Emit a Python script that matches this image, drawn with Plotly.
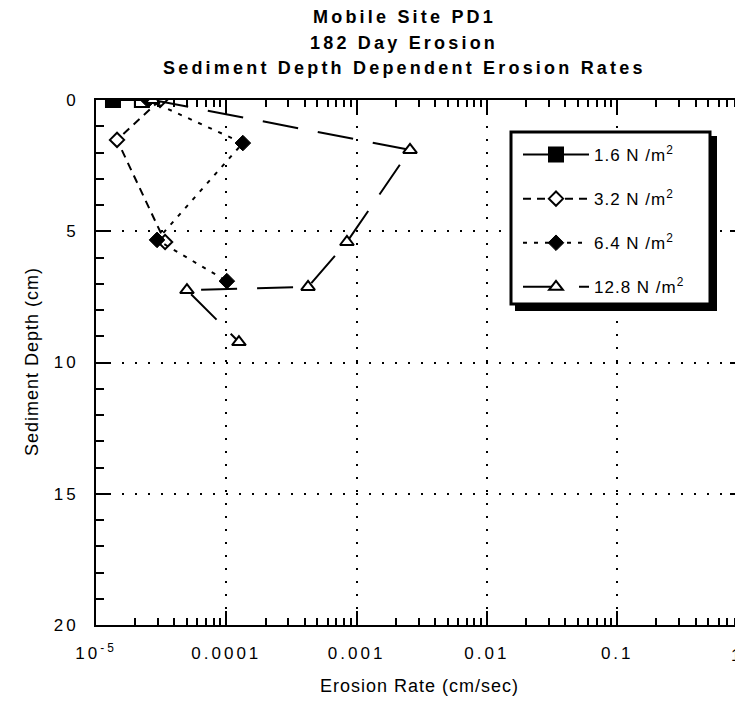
import plotly.graph_objects as go

# ---- data ----
series_names = ["1.6 N /m<sup>2</sup>", "3.2 N /m<sup>2</sup>", "6.4 N /m<sup>2</sup>", "12.8 N /m<sup>2</sup>"]

rate_16 = [1.35e-5, 2.25e-5]
depth_16 = [0.0, 0.0]

rate_32 = [3.10e-5, 1.45e-5, 3.39e-5]
depth_32 = [0.0, 1.52, 5.41]

rate_64 = [2.51e-5, 1.34e-4, 2.94e-5, 1.01e-4]
depth_64 = [0.0, 1.64, 5.33, 6.90]

rate_128 = [2.73e-5, 2.57e-3, 8.43e-4, 4.24e-4, 4.99e-5, 1.25e-4]
depth_128 = [0.0, 1.90, 5.41, 7.12, 7.24, 9.22]

x_tickvals = [1e-5, 1e-4, 1e-3, 1e-2, 1e-1]
x_ticktext = ["10<sup>-5</sup>", "0.0001", "0.001", "0.01", "0.1"]
x_edge_label = "1"
y_tickvals = [0, 5, 10, 15, 20]
y_ticktext = ["0", "5", "10", "15", "20"]

title_lines = ["Mobile Site PD1", "182 Day Erosion", "Sediment Depth Dependent Erosion Rates"]
x_title = "Erosion Rate (cm/sec)"
y_title = "Sediment Depth (cm)"

FONT = "Liberation Sans, Arial, sans-serif"


def spaced(txt, px):
    return '<span style="letter-spacing:%spx">%s</span>' % (px, txt)


fig = go.Figure()

fig.add_trace(go.Scatter(
    x=rate_16, y=depth_16, name=spaced(series_names[0], 1), legendgroup="a",
    mode="lines+markers",
    line=dict(color="black", width=2, dash="solid"),
    marker=dict(symbol=["square", "square-open"], size=14, color="black",
                line=dict(color="black", width=2)),
))
fig.add_trace(go.Scatter(
    x=rate_32, y=depth_32, name=spaced(series_names[1], 1), legendgroup="b",
    mode="lines+markers",
    line=dict(color="black", width=2, dash="8px,6px"),
    marker=dict(symbol="diamond", size=11, color="white",
                line=dict(color="black", width=2)),
))
fig.add_trace(go.Scatter(
    x=rate_64, y=depth_64, name=spaced(series_names[2], 1), legendgroup="c",
    mode="lines+markers",
    line=dict(color="black", width=2, dash="4px,7px"),
    marker=dict(symbol="diamond", size=12, color="black",
                line=dict(color="black", width=1)),
))
fig.add_trace(go.Scatter(
    x=rate_128, y=depth_128, name=spaced(series_names[3], 1), legendgroup="d",
    mode="lines+markers",
    line=dict(color="black", width=2, dash="36px,20px"),
    marker=dict(symbol="triangle-up", size=12, color="white",
                line=dict(color="black", width=2)),
))

# page is offset by the 8px body margin
OFF = 8
W, H = 743 - OFF, 705 - OFF
L, T, B = 96 - OFF, 100 - OFF, 80
pw = W - L
ph = H - T - B
decade = 130.3
xmax_log = -5 + pw / decade


def px_x(page_x):
    return (page_x - OFF - L) / pw


def px_y(page_y):
    return (H - B - (page_y - OFF)) / ph


# legend frame with drop shadow
fig.add_shape(type="rect", xref="paper", yref="paper",
              x0=px_x(515), x1=px_x(717), y0=px_y(311), y1=px_y(136),
              fillcolor="black", line=dict(width=0), layer="above")
fig.add_shape(type="rect", xref="paper", yref="paper",
              x0=px_x(511), x1=px_x(710), y0=px_y(304), y1=px_y(132),
              fillcolor="white", line=dict(color="black", width=3), layer="above")

for txt, py in zip(title_lines, [17, 43, 68]):
    fig.add_annotation(text="<b>" + spaced(txt, 3.2) + "</b>", xref="paper", yref="paper",
                       x=px_x(404), y=px_y(py), xanchor="center", yanchor="middle",
                       showarrow=False, font=dict(family=FONT, size=18, color="black"))

# label of the decade at the right edge (mostly outside the visible window in the reference)
fig.add_annotation(text=x_edge_label, xref="paper", yref="paper",
                   x=px_x(742), y=px_y(655), xanchor="right", yanchor="middle",
                   showarrow=False, font=dict(family=FONT, size=17, color="black"))

# y axis title
fig.add_annotation(text=spaced(y_title, 1), xref="paper", yref="paper",
                   x=px_x(32), y=px_y(362), xanchor="center", yanchor="middle",
                   textangle=-90, showarrow=False,
                   font=dict(family=FONT, size=18, color="black"))

fig.update_layout(
    width=W, height=H,
    margin=dict(l=L, r=0, t=T, b=B, autoexpand=False),
    paper_bgcolor="white", plot_bgcolor="white",
    font=dict(family=FONT, size=16, color="black"),
    showlegend=True,
    legend=dict(x=px_x(518), y=px_y(137), xanchor="left", yanchor="top",
                bgcolor="rgba(0,0,0,0)", borderwidth=0,
                font=dict(family=FONT, size=17, color="black"),
                itemwidth=66, tracegroupgap=19),
)

fig.update_xaxes(
    type="log", range=[-5, xmax_log],
    showline=True, linecolor="black", linewidth=2, mirror="ticks",
    ticks="inside", ticklen=14, tickwidth=1.5, tickcolor="black",
    tickvals=x_tickvals, ticktext=[spaced(t, 3) for t in x_ticktext],
    tickfont=dict(family=FONT, size=17),
    ticklabelstandoff=12,
    showgrid=True, gridcolor="black", gridwidth=1.5, griddash="2px,11px",
    minor=dict(ticks="inside", ticklen=7, tickwidth=1.5, tickcolor="black",
               dtick="D1", showgrid=False),
    zeroline=False,
    title=dict(text=spaced(x_title, 1), font=dict(family=FONT, size=18), standoff=17),
)
fig.update_yaxes(
    range=[20, 0],
    showline=True, linecolor="black", linewidth=2, mirror="ticks",
    ticks="inside", ticklen=13, tickwidth=1.5, tickcolor="black",
    tickvals=y_tickvals, ticktext=[spaced(t, 3) for t in y_ticktext],
    tickfont=dict(family=FONT, size=17),
    ticklabelstandoff=12,
    showgrid=True, gridcolor="black", gridwidth=1.5, griddash="2px,11px",
    minor=dict(ticks="inside", ticklen=8, tickwidth=1.5, tickcolor="black",
               dtick=1, showgrid=False),
    zeroline=False,
)

fig.write_html("out.html")
